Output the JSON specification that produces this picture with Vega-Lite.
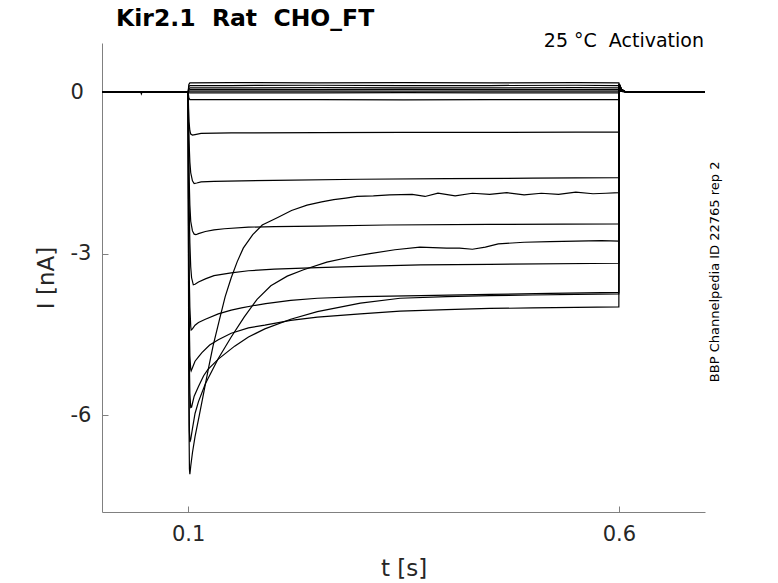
{
"$schema": "https://vega.github.io/schema/vega-lite/v6.json",
"width": 603, "height": 469,
"autosize": {"type": "none"},
"padding": {"left": 102, "top": 43, "right": 73, "bottom": 71},
"background": "white",
"config": {"view": {"stroke": null}},
"layer": [
{
"data": {"values": [
{"s":"P1","t":0,"i":0},{"s":"P1","t":0.1,"i":0},{"s":"P1","t":0.1008,"i":0.14},{"s":"P1","t":0.102,"i":0.17},{"s":"P1","t":0.15,"i":0.175},{"s":"P1","t":0.25,"i":0.17},{"s":"P1","t":0.35,"i":0.175},{"s":"P1","t":0.45,"i":0.17},{"s":"P1","t":0.55,"i":0.175},{"s":"P1","t":0.6,"i":0.17},{"s":"P1","t":0.6005,"i":0.1},{"s":"P1","t":0.603,"i":0.03},{"s":"P1","t":0.608,"i":0},{"s":"P1","t":0.7,"i":0},
{"s":"P2","t":0,"i":0},{"s":"P2","t":0.1,"i":0},{"s":"P2","t":0.1008,"i":0.1},{"s":"P2","t":0.102,"i":0.12},{"s":"P2","t":0.15,"i":0.12},{"s":"P2","t":0.25,"i":0.125},{"s":"P2","t":0.35,"i":0.12},{"s":"P2","t":0.45,"i":0.12},{"s":"P2","t":0.55,"i":0.125},{"s":"P2","t":0.6,"i":0.12},{"s":"P2","t":0.6005,"i":0.08},{"s":"P2","t":0.603,"i":0.03},{"s":"P2","t":0.608,"i":0},{"s":"P2","t":0.7,"i":0},
{"s":"P3","t":0,"i":0},{"s":"P3","t":0.1,"i":0},{"s":"P3","t":0.1008,"i":0.06},{"s":"P3","t":0.102,"i":0.075},{"s":"P3","t":0.15,"i":0.075},{"s":"P3","t":0.25,"i":0.08},{"s":"P3","t":0.35,"i":0.075},{"s":"P3","t":0.45,"i":0.075},{"s":"P3","t":0.55,"i":0.08},{"s":"P3","t":0.6,"i":0.075},{"s":"P3","t":0.6005,"i":0.06},{"s":"P3","t":0.603,"i":0.02},{"s":"P3","t":0.608,"i":0},{"s":"P3","t":0.7,"i":0},
{"s":"P4","t":0,"i":0},{"s":"P4","t":0.1,"i":0},{"s":"P4","t":0.1008,"i":0.035},{"s":"P4","t":0.102,"i":0.045},{"s":"P4","t":0.15,"i":0.045},{"s":"P4","t":0.25,"i":0.045},{"s":"P4","t":0.35,"i":0.05},{"s":"P4","t":0.45,"i":0.045},{"s":"P4","t":0.55,"i":0.045},{"s":"P4","t":0.6,"i":0.045},{"s":"P4","t":0.6005,"i":0.04},{"s":"P4","t":0.603,"i":0.02},{"s":"P4","t":0.608,"i":0},{"s":"P4","t":0.7,"i":0},
{"s":"P5","t":0,"i":0},{"s":"P5","t":0.1,"i":0},{"s":"P5","t":0.1008,"i":0.012},{"s":"P5","t":0.102,"i":0.015},{"s":"P5","t":0.15,"i":0.015},{"s":"P5","t":0.25,"i":0.018},{"s":"P5","t":0.35,"i":0.015},{"s":"P5","t":0.45,"i":0.015},{"s":"P5","t":0.55,"i":0.015},{"s":"P5","t":0.6,"i":0.015},{"s":"P5","t":0.6005,"i":0.02},{"s":"P5","t":0.603,"i":0.01},{"s":"P5","t":0.608,"i":0},{"s":"P5","t":0.7,"i":0},
{"s":"P6","t":0,"i":0},{"s":"P6","t":0.045,"i":0},{"s":"P6","t":0.0457,"i":-0.035},{"s":"P6","t":0.0465,"i":0},{"s":"P6","t":0.1,"i":0},{"s":"P6","t":0.1008,"i":-0.012},{"s":"P6","t":0.102,"i":-0.015},{"s":"P6","t":0.15,"i":-0.015},{"s":"P6","t":0.25,"i":-0.015},{"s":"P6","t":0.35,"i":-0.012},{"s":"P6","t":0.45,"i":-0.015},{"s":"P6","t":0.55,"i":-0.015},{"s":"P6","t":0.6,"i":-0.015},{"s":"P6","t":0.6005,"i":0.02},{"s":"P6","t":0.603,"i":0.01},{"s":"P6","t":0.608,"i":0},{"s":"P6","t":0.7,"i":0},
{"s":"N0","t":0,"i":0},{"s":"N0","t":0.1,"i":0},{"s":"N0","t":0.1008,"i":-0.11},{"s":"N0","t":0.102,"i":-0.14},{"s":"N0","t":0.15,"i":-0.14},{"s":"N0","t":0.25,"i":-0.14},{"s":"N0","t":0.35,"i":-0.145},{"s":"N0","t":0.45,"i":-0.14},{"s":"N0","t":0.55,"i":-0.14},{"s":"N0","t":0.6,"i":-0.14},{"s":"N0","t":0.6005,"i":0.04},{"s":"N0","t":0.603,"i":0.02},{"s":"N0","t":0.608,"i":0},{"s":"N0","t":0.7,"i":0},
{"s":"F1","t":0,"i":0},{"s":"F1","t":0.1,"i":0},{"s":"F1","t":0.1005,"i":-0.3},{"s":"F1","t":0.101,"i":-0.55},{"s":"F1","t":0.102,"i":-0.72},{"s":"F1","t":0.103,"i":-0.78},{"s":"F1","t":0.105,"i":-0.8},{"s":"F1","t":0.108,"i":-0.79},{"s":"F1","t":0.115,"i":-0.77},{"s":"F1","t":0.15,"i":-0.76},{"s":"F1","t":0.25,"i":-0.755},{"s":"F1","t":0.35,"i":-0.75},{"s":"F1","t":0.45,"i":-0.75},{"s":"F1","t":0.55,"i":-0.745},{"s":"F1","t":0.6,"i":-0.745},{"s":"F1","t":0.6005,"i":0.08},{"s":"F1","t":0.603,"i":0.03},{"s":"F1","t":0.608,"i":0},{"s":"F1","t":0.7,"i":0},
{"s":"F2","t":0,"i":0},{"s":"F2","t":0.1,"i":0},{"s":"F2","t":0.1005,"i":-0.5},{"s":"F2","t":0.101,"i":-0.9},{"s":"F2","t":0.102,"i":-1.3},{"s":"F2","t":0.103,"i":-1.5},{"s":"F2","t":0.105,"i":-1.65},{"s":"F2","t":0.107,"i":-1.7},{"s":"F2","t":0.11,"i":-1.69},{"s":"F2","t":0.115,"i":-1.67},{"s":"F2","t":0.13,"i":-1.66},{"s":"F2","t":0.2,"i":-1.64},{"s":"F2","t":0.3,"i":-1.62},{"s":"F2","t":0.4,"i":-1.61},{"s":"F2","t":0.5,"i":-1.6},{"s":"F2","t":0.6,"i":-1.59},{"s":"F2","t":0.6005,"i":0.1},{"s":"F2","t":0.603,"i":0.03},{"s":"F2","t":0.608,"i":0},{"s":"F2","t":0.7,"i":0},
{"s":"F3","t":0,"i":0},{"s":"F3","t":0.1,"i":0},{"s":"F3","t":0.1005,"i":-0.8},{"s":"F3","t":0.101,"i":-1.5},{"s":"F3","t":0.102,"i":-2.1},{"s":"F3","t":0.103,"i":-2.4},{"s":"F3","t":0.105,"i":-2.58},{"s":"F3","t":0.107,"i":-2.64},{"s":"F3","t":0.109,"i":-2.65},{"s":"F3","t":0.112,"i":-2.63},{"s":"F3","t":0.12,"i":-2.59},{"s":"F3","t":0.13,"i":-2.56},{"s":"F3","t":0.142,"i":-2.54},{"s":"F3","t":0.17,"i":-2.51},{"s":"F3","t":0.2,"i":-2.5},{"s":"F3","t":0.25,"i":-2.49},{"s":"F3","t":0.33,"i":-2.47},{"s":"F3","t":0.45,"i":-2.46},{"s":"F3","t":0.6,"i":-2.45},{"s":"F3","t":0.6005,"i":0.12},{"s":"F3","t":0.603,"i":0.04},{"s":"F3","t":0.608,"i":0},{"s":"F3","t":0.7,"i":0},
{"s":"F4","t":0,"i":0},{"s":"F4","t":0.1,"i":0},{"s":"F4","t":0.1005,"i":-1.0},{"s":"F4","t":0.101,"i":-2.0},{"s":"F4","t":0.102,"i":-2.8},{"s":"F4","t":0.103,"i":-3.25},{"s":"F4","t":0.104,"i":-3.45},{"s":"F4","t":0.106,"i":-3.58},{"s":"F4","t":0.108,"i":-3.57},{"s":"F4","t":0.112,"i":-3.53},{"s":"F4","t":0.12,"i":-3.47},{"s":"F4","t":0.13,"i":-3.41},{"s":"F4","t":0.15,"i":-3.36},{"s":"F4","t":0.17,"i":-3.32},{"s":"F4","t":0.2,"i":-3.29},{"s":"F4","t":0.25,"i":-3.26},{"s":"F4","t":0.3,"i":-3.24},{"s":"F4","t":0.37,"i":-3.21},{"s":"F4","t":0.45,"i":-3.2},{"s":"F4","t":0.6,"i":-3.18},{"s":"F4","t":0.6005,"i":0.14},{"s":"F4","t":0.603,"i":0.05},{"s":"F4","t":0.608,"i":0},{"s":"F4","t":0.7,"i":0},
{"s":"F5","t":0,"i":0},{"s":"F5","t":0.1,"i":0},{"s":"F5","t":0.1005,"i":-2.0},{"s":"F5","t":0.101,"i":-3.2},{"s":"F5","t":0.102,"i":-4.0},{"s":"F5","t":0.103,"i":-4.35},{"s":"F5","t":0.1035,"i":-4.42},{"s":"F5","t":0.105,"i":-4.4},{"s":"F5","t":0.108,"i":-4.33},{"s":"F5","t":0.112,"i":-4.28},{"s":"F5","t":0.12,"i":-4.22},{"s":"F5","t":0.135,"i":-4.12},{"s":"F5","t":0.15,"i":-4.05},{"s":"F5","t":0.162,"i":-4.01},{"s":"F5","t":0.175,"i":-3.97},{"s":"F5","t":0.19,"i":-3.93},{"s":"F5","t":0.219,"i":-3.87},{"s":"F5","t":0.25,"i":-3.83},{"s":"F5","t":0.3,"i":-3.8},{"s":"F5","t":0.37,"i":-3.78},{"s":"F5","t":0.45,"i":-3.76},{"s":"F5","t":0.52,"i":-3.74},{"s":"F5","t":0.6,"i":-3.72},{"s":"F5","t":0.6005,"i":0.15},{"s":"F5","t":0.603,"i":0.05},{"s":"F5","t":0.608,"i":0},{"s":"F5","t":0.7,"i":0},
{"s":"F6","t":0,"i":0},{"s":"F6","t":0.1,"i":0},{"s":"F6","t":0.1005,"i":-2.5},{"s":"F6","t":0.101,"i":-4.0},{"s":"F6","t":0.102,"i":-4.9},{"s":"F6","t":0.103,"i":-5.15},{"s":"F6","t":0.1035,"i":-5.18},{"s":"F6","t":0.105,"i":-5.12},{"s":"F6","t":0.108,"i":-5.0},{"s":"F6","t":0.112,"i":-4.92},{"s":"F6","t":0.116,"i":-4.84},{"s":"F6","t":0.125,"i":-4.7},{"s":"F6","t":0.135,"i":-4.6},{"s":"F6","t":0.15,"i":-4.48},{"s":"F6","t":0.17,"i":-4.38},{"s":"F6","t":0.189,"i":-4.33},{"s":"F6","t":0.219,"i":-4.24},{"s":"F6","t":0.25,"i":-4.18},{"s":"F6","t":0.3,"i":-4.12},{"s":"F6","t":0.346,"i":-4.07},{"s":"F6","t":0.4,"i":-4.04},{"s":"F6","t":0.45,"i":-4.02},{"s":"F6","t":0.5,"i":-4.01},{"s":"F6","t":0.55,"i":-4.0},{"s":"F6","t":0.6,"i":-3.99},{"s":"F6","t":0.6005,"i":0.15},{"s":"F6","t":0.603,"i":0.05},{"s":"F6","t":0.608,"i":0},{"s":"F6","t":0.7,"i":0},
{"s":"F7","t":0,"i":0},{"s":"F7","t":0.1,"i":0},{"s":"F7","t":0.1005,"i":-3.0},{"s":"F7","t":0.101,"i":-4.6},{"s":"F7","t":0.102,"i":-5.6},{"s":"F7","t":0.103,"i":-5.86},{"s":"F7","t":0.104,"i":-5.85},{"s":"F7","t":0.107,"i":-5.65},{"s":"F7","t":0.112,"i":-5.47},{"s":"F7","t":0.118,"i":-5.27},{"s":"F7","t":0.123,"i":-5.15},{"s":"F7","t":0.135,"i":-4.96},{"s":"F7","t":0.154,"i":-4.72},{"s":"F7","t":0.17,"i":-4.55},{"s":"F7","t":0.189,"i":-4.4},{"s":"F7","t":0.219,"i":-4.22},{"s":"F7","t":0.25,"i":-4.08},{"s":"F7","t":0.3,"i":-3.92},{"s":"F7","t":0.346,"i":-3.83},{"s":"F7","t":0.4,"i":-3.8},{"s":"F7","t":0.45,"i":-3.78},{"s":"F7","t":0.5,"i":-3.77},{"s":"F7","t":0.55,"i":-3.76},{"s":"F7","t":0.6,"i":-3.75},{"s":"F7","t":0.6005,"i":0.15},{"s":"F7","t":0.603,"i":0.05},{"s":"F7","t":0.608,"i":0},{"s":"F7","t":0.7,"i":0},
{"s":"F8","t":0,"i":0},{"s":"F8","t":0.1,"i":0},{"s":"F8","t":0.1005,"i":-3.5},{"s":"F8","t":0.101,"i":-5.5},{"s":"F8","t":0.1015,"i":-6.3},{"s":"F8","t":0.102,"i":-6.5},{"s":"F8","t":0.103,"i":-6.45},{"s":"F8","t":0.105,"i":-6.25},{"s":"F8","t":0.108,"i":-5.97},{"s":"F8","t":0.112,"i":-5.75},{"s":"F8","t":0.12,"i":-5.42},{"s":"F8","t":0.135,"i":-4.95},{"s":"F8","t":0.15,"i":-4.55},{"s":"F8","t":0.165,"i":-4.18},{"s":"F8","t":0.18,"i":-3.85},{"s":"F8","t":0.196,"i":-3.6},{"s":"F8","t":0.215,"i":-3.42},{"s":"F8","t":0.234,"i":-3.3},{"s":"F8","t":0.261,"i":-3.16},{"s":"F8","t":0.29,"i":-3.06},{"s":"F8","t":0.311,"i":-3.0},{"s":"F8","t":0.34,"i":-2.93},{"s":"F8","t":0.369,"i":-2.88},{"s":"F8","t":0.4,"i":-2.9},{"s":"F8","t":0.415,"i":-2.9},{"s":"F8","t":0.43,"i":-2.92},{"s":"F8","t":0.445,"i":-2.88},{"s":"F8","t":0.46,"i":-2.82},{"s":"F8","t":0.49,"i":-2.79},{"s":"F8","t":0.52,"i":-2.78},{"s":"F8","t":0.55,"i":-2.77},{"s":"F8","t":0.58,"i":-2.76},{"s":"F8","t":0.6,"i":-2.77},{"s":"F8","t":0.6005,"i":0.12},{"s":"F8","t":0.603,"i":0.04},{"s":"F8","t":0.608,"i":0},{"s":"F8","t":0.7,"i":0},
{"s":"F9","t":0,"i":0},{"s":"F9","t":0.1,"i":0},{"s":"F9","t":0.1005,"i":-4.0},{"s":"F9","t":0.101,"i":-6.2},{"s":"F9","t":0.1015,"i":-7.0},{"s":"F9","t":0.102,"i":-7.1},{"s":"F9","t":0.103,"i":-6.95},{"s":"F9","t":0.105,"i":-6.7},{"s":"F9","t":0.108,"i":-6.4},{"s":"F9","t":0.113,"i":-6.0},{"s":"F9","t":0.1185,"i":-5.55},{"s":"F9","t":0.124,"i":-5.1},{"s":"F9","t":0.129,"i":-4.71},{"s":"F9","t":0.136,"i":-4.25},{"s":"F9","t":0.143,"i":-3.8},{"s":"F9","t":0.15,"i":-3.45},{"s":"F9","t":0.157,"i":-3.15},{"s":"F9","t":0.164,"i":-2.9},{"s":"F9","t":0.175,"i":-2.65},{"s":"F9","t":0.186,"i":-2.47},{"s":"F9","t":0.195,"i":-2.4},{"s":"F9","t":0.204,"i":-2.33},{"s":"F9","t":0.22,"i":-2.2},{"s":"F9","t":0.238,"i":-2.1},{"s":"F9","t":0.255,"i":-2.04},{"s":"F9","t":0.269,"i":-2.0},{"s":"F9","t":0.283,"i":-1.97},{"s":"F9","t":0.296,"i":-1.94},{"s":"F9","t":0.315,"i":-1.93},{"s":"F9","t":0.334,"i":-1.91},{"s":"F9","t":0.36,"i":-1.9},{"s":"F9","t":0.375,"i":-1.94},{"s":"F9","t":0.39,"i":-1.88},{"s":"F9","t":0.41,"i":-1.93},{"s":"F9","t":0.43,"i":-1.88},{"s":"F9","t":0.45,"i":-1.9},{"s":"F9","t":0.47,"i":-1.87},{"s":"F9","t":0.49,"i":-1.91},{"s":"F9","t":0.51,"i":-1.88},{"s":"F9","t":0.53,"i":-1.9},{"s":"F9","t":0.55,"i":-1.86},{"s":"F9","t":0.57,"i":-1.89},{"s":"F9","t":0.585,"i":-1.88},{"s":"F9","t":0.6,"i":-1.87},{"s":"F9","t":0.6005,"i":0.1},{"s":"F9","t":0.603,"i":0.03},{"s":"F9","t":0.608,"i":0},{"s":"F9","t":0.7,"i":0}
]},
"mark": {"type": "line", "color": "black", "strokeWidth": 1.2},
"encoding": {
"x": {"field": "t", "type": "quantitative", "scale": {"domain": [0, 0.7], "nice": false, "zero": false},
 "axis": {"values": [0.1, 0.6], "format": ".1f", "title": "t [s]", "grid": false, "tickSize": -6, "labelPadding": 17, "labelFlush": false, "domainColor": "#808080", "tickColor": "#808080", "labelFont": "DejaVu Sans", "labelFontSize": 21, "labelColor": "#262626", "titleFont": "DejaVu Sans", "titleFontSize": 23, "titleFontWeight": "normal", "titleColor": "#262626", "titlePadding": 13}},
"y": {"field": "i", "type": "quantitative", "scale": {"domain": [-7.8, 0.91], "nice": false, "zero": false},
 "axis": {"values": [-6, -3, 0], "labelExpr": "datum.value < 0 ? '-' + abs(datum.value) : '' + datum.value", "title": "I [nA]", "grid": false, "tickSize": -6, "labelAlign": "left", "labelBaseline": "middle", "labelPadding": 38, "domainColor": "#808080", "tickColor": "#808080", "labelFont": "DejaVu Sans", "labelFontSize": 21, "labelColor": "#262626", "titleFont": "DejaVu Sans", "titleFontSize": 23, "titleFontWeight": "normal", "titleColor": "#262626", "titlePadding": 12}},
"detail": {"field": "s", "type": "nominal"}
}
},
{
"data": {"values": [{}]},
"mark": {"type": "text", "align": "left", "baseline": "alphabetic", "font": "DejaVu Sans", "fontSize": 23.5, "fontWeight": "bold", "color": "black"},
"encoding": {"x": {"datum": 0.0163}, "y": {"datum": 1.232}, "text": {"value": "Kir2.1\u00a0 Rat\u00a0 CHO_FT"}}
},
{
"data": {"values": [{}]},
"mark": {"type": "text", "align": "right", "baseline": "alphabetic", "font": "DejaVu Sans", "fontSize": 19, "color": "black", "dx": -1},
"encoding": {"x": {"datum": 0.7}, "y": {"datum": 0.842}, "text": {"value": "25 °C\u00a0 Activation"}}
},
{
"data": {"values": [{}]},
"mark": {"type": "text", "align": "center", "baseline": "middle", "angle": 270, "font": "DejaVu Sans", "fontSize": 13, "color": "black"},
"encoding": {"x": {"datum": 0.712}, "y": {"datum": -3.34}, "text": {"value": "BBP Channelpedia ID 22765 rep 2"}}
}
]
}
